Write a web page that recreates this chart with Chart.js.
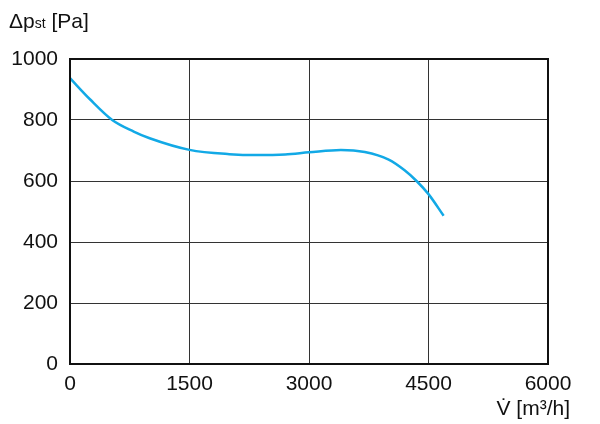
<!DOCTYPE html>
<html>
<head>
<meta charset="utf-8">
<script src="https://cdn.jsdelivr.net/npm/chart.js@4/dist/chart.umd.min.js"></script>
<style>
  html, body { margin: 0; padding: 0; background: #fff; }
  #wrap { width: 600px; height: 424px; position: relative; }
</style>
</head>
<body>
<div id="wrap"><canvas id="fan"></canvas></div>
<script>
// Fan curve: static pressure vs. air flow
const flow     = [0, 250, 530, 800, 1000, 1500, 2000, 2350, 2700, 3000, 3400, 3700, 4000, 4200, 4350, 4500, 4690];
const pressure = [937, 868, 800, 762, 740, 702, 688, 685, 687, 694, 702, 695, 670, 635, 600, 557, 486];
const xTicks = [0, 1500, 3000, 4500, 6000];
const yTicks = [0, 200, 400, 600, 800, 1000];

const FONT = '"Liberation Sans Narrow", "Liberation Sans", Arial, sans-serif';

// frame + axis titles
const frame = {
  id: 'frame',
  afterDraw(chart) {
    const { ctx, chartArea: a } = chart;
    ctx.save();
    ctx.strokeStyle = '#111';
    ctx.lineWidth = 2;
    ctx.strokeRect(a.left, a.top, a.right - a.left, a.bottom - a.top);

    ctx.fillStyle = '#111';
    ctx.textBaseline = 'alphabetic';
    ctx.textAlign = 'left';
    // y title: Δpst [Pa]
    ctx.font = '21px ' + FONT;
    ctx.fillText('Δp', 9, 28);
    let w = ctx.measureText('Δp').width;
    ctx.font = '14px ' + FONT;
    ctx.fillText('st', 9 + w, 28);
    w += ctx.measureText('st').width;
    ctx.font = '21px ' + FONT;
    ctx.fillText(' [Pa]', 9 + w, 28);

    // x title: V̇ [m³/h]
    ctx.textAlign = 'right';
    ctx.fillText('V\u0307 [m\u00b3/h]', 570, 415);
    ctx.restore();
  }
};

new Chart(document.getElementById('fan'), {
  type: 'line',
  data: {
    datasets: [{
      data: flow.map((v, i) => ({ x: v, y: pressure[i] })),
      borderColor: '#12a9e6',
      borderWidth: 2.5,
      pointRadius: 0,
      fill: false,
      cubicInterpolationMode: 'monotone'
    }]
  },
  options: {
    responsive: true,
    maintainAspectRatio: false,
    animation: false,
    layout: { padding: { top: 59, right: 52, left: 0, bottom: 0 } },
    plugins: { legend: { display: false }, tooltip: { enabled: false } },
    scales: {
      x: {
        type: 'linear', min: 0, max: 6000,
        afterFit(s) { s.height = 60; },
        afterBuildTicks(s) { s.ticks = xTicks.map(v => ({ value: v })); },
        grid: { color: '#333', lineWidth: 1, drawTicks: false },
        border: { display: false },
        ticks: { color: '#111', padding: 8, maxRotation: 0, font: { family: FONT, size: 21 },
                 callback: v => String(v) }
      },
      y: {
        min: 0, max: 1000,
        afterFit(s) { s.width = 70; },
        afterBuildTicks(s) { s.ticks = yTicks.map(v => ({ value: v })); },
        grid: { color: '#333', lineWidth: 1, drawTicks: false },
        border: { display: false },
        ticks: { color: '#111', padding: 12, font: { family: FONT, size: 21 },
                 callback: v => String(v) }
      }
    }
  },
  plugins: [frame]
});
</script>
</body>
</html>
